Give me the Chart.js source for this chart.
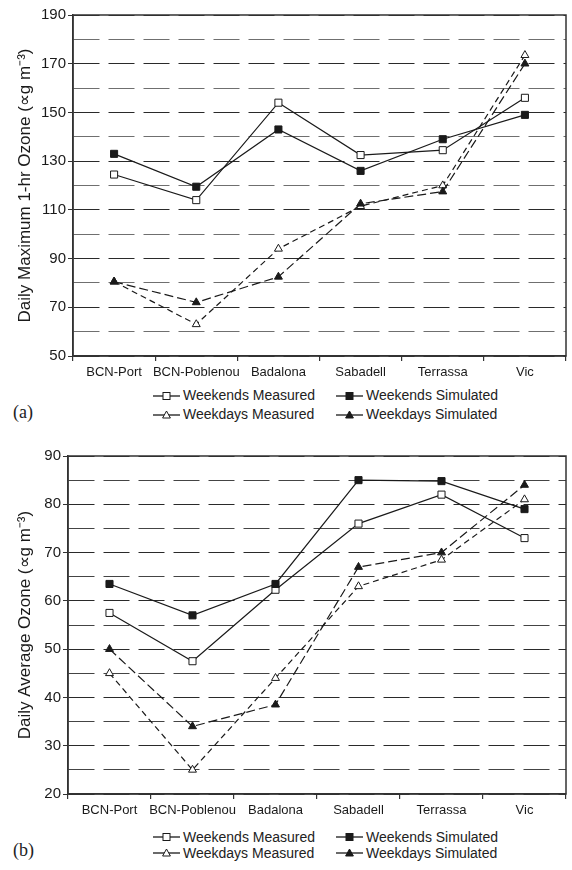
<!DOCTYPE html>
<html>
<head>
<meta charset="utf-8">
<script src="https://cdn.jsdelivr.net/npm/chart.js@4.4.1/dist/chart.umd.min.js"></script>
<style>
  html, body { margin: 0; padding: 0; background: #fff; }
  body { width: 572px; height: 870px; position: relative; overflow: hidden;
         font-family: "Liberation Sans", Arial, sans-serif; color: #222; }
  .box { position: absolute; left: 0; }
  .legend { position: absolute; left: 153px; font-size: 14px; }
  .row { display: flex; white-space: nowrap; }
  .item { display: flex; align-items: center; width: 183px; }
  .item svg { margin-right: 3px; flex: none; }
  .panel { position: absolute; left: 13px; font-family: "Liberation Serif", "Times New Roman", serif;
           font-size: 18px; line-height: 20px; }
</style>
</head>
<body>
<div class="box" style="top:0"><canvas id="maxChart" width="572" height="384"></canvas></div>
<div class="legend" id="maxLegend" style="top:386px; line-height:19px;"></div>
<div class="panel" style="top:402px">(a)</div>

<div class="box" style="top:430px"><canvas id="avgChart" width="572" height="392"></canvas></div>
<div class="legend" id="avgLegend" style="top:829px; line-height:16px;"></div>
<div class="panel" style="top:840px">(b)</div>

<script>
// Monitoring stations along the x axis
const stations = ['BCN-Port', 'BCN-Poblenou', 'Badalona', 'Sabadell', 'Terrassa', 'Vic'];
const seriesNames = ['Weekends Measured', 'Weekends Simulated', 'Weekdays Measured', 'Weekdays Simulated'];

// (a) Daily maximum 1-hr ozone
const maxWeekendsMeasured  = [124.5, 114, 154, 132.5, 134.5, 156];
const maxWeekendsSimulated = [133, 119.5, 143, 126, 139, 149];
const maxWeekdaysMeasured  = [80.5, 63, 94, 111.5, 120, 173.5];
const maxWeekdaysSimulated = [80.5, 72, 82.5, 112.5, 117.5, 170];
const maxTickLabels = [50, 70, 90, 110, 130, 150, 170, 190];

// (b) Daily average ozone
const avgWeekendsMeasured  = [57.5, 47.5, 62.3, 76, 82, 73];
const avgWeekendsSimulated = [63.5, 57, 63.5, 85, 84.8, 79];
const avgWeekdaysMeasured  = [45, 25, 44, 63, 68.5, 81];
const avgWeekdaysSimulated = [50, 34, 38.5, 67, 70, 84];
const avgTickLabels = [20, 30, 40, 50, 60, 70, 80, 90];

const FONT = '"Liberation Sans", Arial, sans-serif';
const INK = '#1a1a1a';
const AXIS = '#333';

// Marker / line look of each series
const looks = {
  'Weekends Measured':  { dash: [],     point: 'rect',     fill: '#fff', radius: 5,   order: 2 },
  'Weekends Simulated': { dash: [],     point: 'rect',     fill: INK,    radius: 5,   order: 1 },
  'Weekdays Measured':  { dash: [6, 4], point: 'triangle', fill: '#fff', radius: 4.6, order: 4 },
  'Weekdays Simulated': { dash: [9, 4], point: 'triangle', fill: INK,    radius: 4.6, order: 3 }
};

function dataset(name, values) {
  const s = looks[name];
  return {
    label: name, data: values, order: s.order,
    borderColor: INK, borderWidth: 1.2, borderDash: s.dash, tension: 0,
    pointStyle: s.point, pointRadius: s.radius, pointHoverRadius: s.radius,
    pointBackgroundColor: s.fill, pointBorderColor: INK, pointBorderWidth: 1
  };
}

// Solid frame around the plotting area
const frame = {
  id: 'frame',
  beforeDatasetsDraw(chart) {
    const { ctx, chartArea: a } = chart;
    ctx.save();
    ctx.strokeStyle = AXIS;
    ctx.lineWidth = 1.5;
    ctx.strokeRect(a.left, a.top, a.right - a.left, a.bottom - a.top);
    ctx.restore();
  }
};

function build(canvasId, series, yMin, yMax, yStep, tickLabels, titleText, axisWidth, topPad, minorColor) {
  const labelled = v => tickLabels.includes(v);
  return new Chart(document.getElementById(canvasId), {
    type: 'line',
    data: {
      labels: stations,
      datasets: series.map((vals, i) => dataset(seriesNames[i], vals))
    },
    plugins: [frame],
    options: {
      responsive: false, maintainAspectRatio: false, animation: false,
      devicePixelRatio: 1,
      layout: { padding: { top: topPad, right: 5, left: 0, bottom: 0 } },
      plugins: { legend: { display: false }, tooltip: { enabled: false } },
      scales: {
        x: {
          type: 'category', offset: true,
          grid: { offset: true, drawOnChartArea: false, tickLength: 5, color: AXIS, lineWidth: 1.2 },
          border: { color: AXIS, width: 1.5 },
          ticks: { color: INK, font: { family: FONT, size: 13 }, padding: 4, maxRotation: 0, autoSkip: false },
          afterFit(s) { s.height = 28; }
        },
        y: {
          min: yMin, max: yMax,
          grid: {
            tickLength: 5, lineWidth: 1,
            color: c => (c.tick && labelled(c.tick.value)) ? '#2a2a2a' : minorColor,
            tickColor: c => (c.tick && labelled(c.tick.value)) ? AXIS : 'rgba(0,0,0,0)'
          },
          border: { color: AXIS, width: 1.5, dash: [26, 9] },
          ticks: {
            stepSize: yStep, autoSkip: false, color: INK, padding: 2,
            font: { family: FONT, size: 15 },
            callback: v => labelled(v) ? String(v) : ''
          },
          title: { display: true, text: titleText, color: INK,
                   font: { family: FONT, size: 17 }, padding: { top: 15, bottom: 0 } },
          afterFit(s) { s.width = axisWidth; }
        }
      }
    }
  });
}

build('maxChart',
  [maxWeekendsMeasured, maxWeekendsSimulated, maxWeekdaysMeasured, maxWeekdaysSimulated],
  50, 190, 10, maxTickLabels, 'Daily Maximum 1-hr Ozone (\u221Dg m\u207B\u00B3)', 73, 15, '#6f6f6f');

build('avgChart',
  [avgWeekendsMeasured, avgWeekendsSimulated, avgWeekdaysMeasured, avgWeekdaysSimulated],
  20, 90, 5, avgTickLabels, 'Daily Average Ozone (\u221Dg m\u207B\u00B3)', 68, 26, '#444');

// Legend: two rows of two entries, each a line sample with its marker
function sample(name) {
  const s = looks[name];
  const m = s.point === 'rect'
    ? `<rect x="10" y="2.5" width="7" height="7" fill="${s.fill}" stroke="${INK}" stroke-width="1"/>`
    : `<polygon points="13.5,2 9.6,9 17.4,9" fill="${s.fill}" stroke="${INK}" stroke-width="1"/>`;
  return `<svg width="27" height="12" viewBox="0 0 27 12"><line x1="0" y1="6" x2="27" y2="6" stroke="${INK}" stroke-width="1.3"/>${m}</svg>`;
}
function legend(id) {
  const el = document.getElementById(id);
  const rows = [[seriesNames[0], seriesNames[1]], [seriesNames[2], seriesNames[3]]];
  el.innerHTML = rows.map(r =>
    `<div class="row">${r.map(n => `<div class="item">${sample(n)}<span>${n}</span></div>`).join('')}</div>`
  ).join('');
}
legend('maxLegend');
legend('avgLegend');
</script>
</body>
</html>
